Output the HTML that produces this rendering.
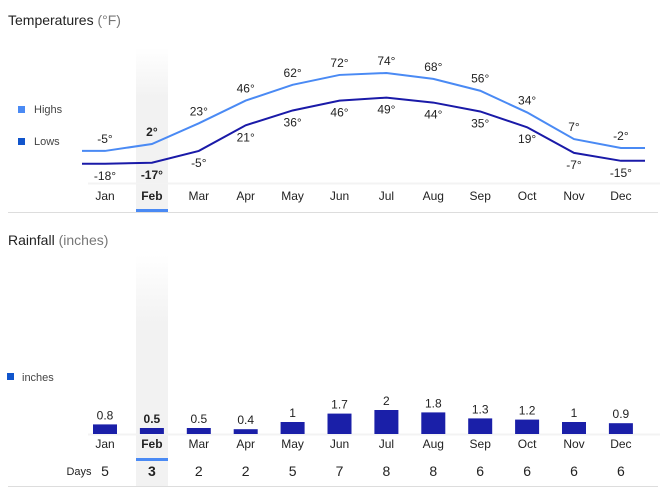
<!DOCTYPE html>
<html><head><meta charset="utf-8"><style>
body{margin:0;background:#fff;font-family:"Liberation Sans",Arial,sans-serif;}
svg text{font-family:"Liberation Sans",Arial,sans-serif;}
</style></head><body>
<svg id="c" width="666" height="490">
<defs><linearGradient id="g" x1="0" y1="0" x2="0" y2="1"><stop offset="0" stop-color="#f2f2f2" stop-opacity="0"/><stop offset="0.3" stop-color="#f2f2f2"/><stop offset="1" stop-color="#f2f2f2"/></linearGradient></defs>
<rect x="136" y="48" width="32" height="164" fill="url(#g)"/>
<rect x="136" y="255" width="32" height="231" fill="url(#g)"/>
<text x="8" y="25" font-size="14" fill="#222">Temperatures <tspan fill="#777">(°F)</tspan></text>
<text x="8" y="245" font-size="14" fill="#222">Rainfall <tspan fill="#777">(inches)</tspan></text>
<g><rect x="18" y="106" width="7" height="7" fill="#4a8af4"/><text x="34" y="113" font-size="11" fill="#444">Highs</text></g>
<g><rect x="18" y="138" width="7" height="7" fill="#1155cc"/><text x="34" y="145" font-size="11" fill="#444">Lows</text></g>
<g><rect x="7" y="373" width="7" height="7" fill="#1155cc"/><text x="22" y="381" font-size="11" fill="#444">inches</text></g>
<line x1="88" y1="183.5" x2="660" y2="183.5" stroke="#f3f3f3" stroke-width="2"/>
<line x1="8" y1="212.5" x2="658" y2="212.5" stroke="#ddd"/>
<line x1="88" y1="434.5" x2="660" y2="434.5" stroke="#f3f3f3" stroke-width="2"/>
<line x1="8" y1="486.5" x2="658" y2="486.5" stroke="#ddd"/>
<rect x="136" y="209" width="32" height="3" fill="#4a8af4"/>
<rect x="136" y="458" width="32" height="3" fill="#4a8af4"/>
<text x="79" y="475" font-size="11" fill="#222" text-anchor="middle">Days</text>
<g id="marks"></g>
</svg>
<script>
const months=["Jan","Feb","Mar","Apr","May","Jun","Jul","Aug","Sep","Oct","Nov","Dec"];
const highs=[-5,2,23,46,62,72,74,68,56,34,7,-2];
const lows=[-18,-17,-5,21,36,46,49,44,35,19,-7,-15];
const rain=[0.8,0.5,0.5,0.4,1,1.7,2,1.8,1.3,1.2,1,0.9];
const rainLabels=["0.8","0.5","0.5","0.4","1","1.7","2","1.8","1.3","1.2","1","0.9"];
const days=[5,3,2,2,5,7,8,8,6,6,6,6];
const sel=1;
const NS="http://www.w3.org/2000/svg";
const g=document.getElementById('marks');
const xS=i=>105+i*46.9;
const yT=t=>146-0.987*t;
const yR=v=>434-12*v;
function el(tag,a,txt){const e=document.createElementNS(NS,tag);for(const k in a)e.setAttribute(k,a[k]);if(txt!==undefined)e.textContent=txt;g.appendChild(e);return e;}
function line(vals,color,name){
  let pts=[[82,yT(vals[0])]];
  vals.forEach((v,i)=>pts.push([xS(i),yT(v)]));
  pts.push([645,yT(vals[vals.length-1])]);
  const p=el('polyline',{points:pts.map(p=>p.join(',')).join(' '),fill:'none',stroke:color,'stroke-width':2});
  
  
}
line(highs,'#4a8af4','highs-line');
line(lows,'#1a1aa8','lows-line');
months.forEach((m,i)=>{
  const x=xS(i),b=i===sel?'bold':'normal';
  const h=el('text',{x:x,y:yT(highs[i])-8,'font-size':12,'text-anchor':'middle',fill:'#222','font-weight':b},highs[i]+'°');
  
  
  const l=el('text',{x:x,y:yT(lows[i])+16,'font-size':12,'text-anchor':'middle',fill:'#222','font-weight':b},lows[i]+'°');
  
  
  const t1=el('text',{x:x,y:200,'font-size':12,'text-anchor':'middle',fill:'#222','font-weight':b},m);
  
  
  const r=el('rect',{x:x-12,y:yR(rain[i]),width:24,height:434-yR(rain[i]),fill:'#1a1fa8'});
  
  
  const rl=el('text',{x:x,y:yR(rain[i])-5,'font-size':12,'text-anchor':'middle',fill:'#222','font-weight':b},rainLabels[i]);
  
  
  const t2=el('text',{x:x,y:448,'font-size':12,'text-anchor':'middle',fill:'#222','font-weight':b},m);
  
  
  const d=el('text',{x:x,y:476,'font-size':14,'text-anchor':'middle',fill:'#222','font-weight':b},days[i]);
  
  
});
</script>
</body></html>
